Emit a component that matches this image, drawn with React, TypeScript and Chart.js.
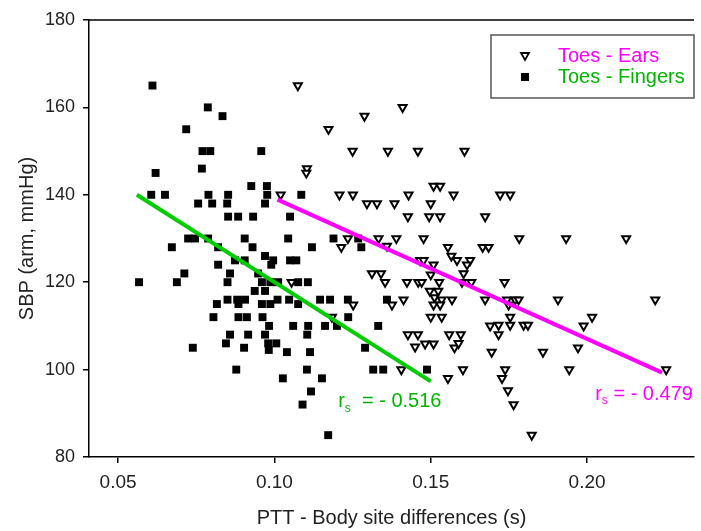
import React, { useEffect, useRef } from 'react';
import { Chart, registerables } from 'chart.js';

Chart.register(...registerables);

// ---- Data ----
const seriesLabels = ['Toes - Ears', 'Toes - Fingers'];
const rsTexts = ['- 0.479', '- 0.516'];
const xTitle = 'PTT - Body site differences (s)';
const yTitle = 'SBP (arm, mmHg)';
const xTicks = [0.05, 0.1, 0.15, 0.2];
const yTicks = [80, 100, 120, 140, 160, 180];

// Toes - Fingers (filled squares)
const fingersX = [
  0.061, 0.0787, 0.0834, 0.0718, 0.077, 0.0795, 0.0958, 0.062, 0.0768, 0.0926, 0.0976,
  0.0606, 0.065, 0.0789, 0.0852, 0.0977,
  0.0756, 0.0801, 0.0849, 0.097,
  0.0852, 0.0884, 0.0932, 0.105,
  0.0724, 0.0746, 0.0788, 0.0905, 0.1044,
  0.0672, 0.082, 0.093,
  0.097,
  0.0874, 0.0905, 0.0996, 0.105,
  0.082, 0.099,
  0.0712, 0.0858, 0.0948,
  0.0567, 0.0688, 0.085, 0.096, 0.0987, 0.1012,
  0.0937, 0.097,
  0.085, 0.0881, 0.0906, 0.101, 0.1047,
  0.0816, 0.0885, 0.096, 0.0987,
  0.0805, 0.0885, 0.0912, 0.0962,
  0.0858, 0.0916, 0.097, 0.0983, 0.106, 0.0739, 0.0845, 0.0903, 0.098, 0.0982, 0.1006, 0.104, 0.0878, 0.1027,
  0.1086, 0.1189, 0.1268, 0.1278, 0.112, 0.107, 0.1076, 0.1107, 0.1146, 0.1178, 0.1235, 0.136, 0.1076, 0.1236,
  0.1108, 0.1162, 0.12, 0.1332, 0.1105, 0.129, 0.1114, 0.1104, 0.1316, 0.1348, 0.1488, 0.1152, 0.1117, 0.109, 0.1172,
];
const fingersY = [
  165, 160, 158, 155, 150, 150, 150, 145, 146, 142, 142,
  140, 140, 140, 140, 140,
  138, 138, 138, 138,
  135, 135, 135, 135,
  130, 130, 130, 130, 130,
  128, 128, 128,
  126,
  125, 125, 125, 125,
  124, 124,
  122, 122, 122,
  120, 120, 120, 120, 120, 120,
  118, 118,
  116, 116, 116, 116, 116,
  115, 115, 115, 115,
  112, 112, 112, 112,
  108, 108, 108, 110, 110, 105, 106, 105, 106, 104.5, 106, 104, 100, 98,
  140, 130, 130, 128, 128, 125, 120, 120, 116, 116, 116, 116, 115, 112,
  110, 110, 110, 110, 108, 105, 104, 100, 100, 100, 100, 98, 95, 92, 85,
];

// Toes - Ears (open down-triangles)
const earsX = [
  0.1075, 0.141, 0.1288, 0.1173, 0.125, 0.1363, 0.1459, 0.1608, 0.1104, 0.1102, 0.1509, 0.153,
  0.102, 0.1055,
  0.1208, 0.1251, 0.1429, 0.1573,
  0.1296, 0.1328, 0.1384, 0.15,
  0.1427, 0.1495, 0.153, 0.1674,
  0.1235, 0.1333, 0.139, 0.1477,
  0.1214, 0.136, 0.1555, 0.1666, 0.1685,
  0.1566, 0.1584, 0.1466, 0.1477, 0.1509, 0.1626, 0.1616, 0.1605,
  0.1312, 0.1341, 0.15,
  0.1354, 0.1424, 0.146, 0.1471, 0.1527, 0.16, 0.163,
  0.1497, 0.1524,
  0.1512, 0.1535, 0.1413, 0.1568, 0.1674,
  0.1252, 0.1376, 0.1509, 0.153,
  0.1184, 0.15, 0.1535,
  0.1722, 0.1754, 0.1783, 0.1933, 0.2125, 0.1736, 0.1744, 0.177, 0.1781, 0.1749, 0.1907, 0.2218, 0.1754, 0.2016,
  0.1717, 0.1754, 0.1797, 0.1811, 0.1989, 0.1717, 0.1971, 0.1859, 0.1738, 0.1943, 0.2253, 0.1728, 0.1747, 0.1765, 0.1823,
  0.1427, 0.1459, 0.1559, 0.1596, 0.169, 0.145, 0.1482, 0.1509, 0.1576, 0.1589, 0.1695, 0.1406, 0.1603, 0.1555,
];
const earsY = [
  165, 160, 158, 155, 150, 150, 150, 150, 146, 145, 142, 142,
  140, 120,
  140, 140, 140, 140,
  138, 138, 138, 138,
  135, 135, 135, 135,
  130, 130, 130, 130,
  128, 128.3, 128, 128, 128,
  126, 125, 125, 125, 124, 125, 124, 122,
  122, 122, 121.7,
  120, 120, 120, 120, 120, 120, 120,
  118, 118,
  116.5, 116, 116, 116, 116,
  114.8, 114.8, 114.8, 114.8,
  112, 112, 112,
  140, 140, 130, 130, 130, 120, 116, 116, 116, 114.8, 116, 116, 112, 112,
  110.2, 110.2, 110.2, 110.2, 110, 108, 105, 104, 100, 100, 100, 98, 95.2, 92, 85,
  108, 108, 108, 108, 110, 105.2, 105.9, 105.9, 105, 106, 104, 100, 100, 98,
];

// Regression lines (end points)
const earsFitX = [0.101, 0.224];
const earsFitY = [138.9, 99.3];
const fingersFitX = [0.056, 0.15];
const fingersFitY = [140, 97.3];

const MAGENTA = '#ff00ff';
const GREEN_LINE = '#00cc00';
const GREEN_TEXT = '#00b400';
const FONT = '"Liberation Sans", Arial, Helvetica, sans-serif';

const toPts = (xs: number[], ys: number[]) => xs.map((x, i) => ({ x, y: ys[i] }));

const overlayPlugin = {
  id: 'overlay',
  afterDraw(chart: any) {
    const { ctx, chartArea: a, scales } = chart;
    const xs = scales.x;
    const ys = scales.y;
    ctx.save();
    // top frame line
    ctx.strokeStyle = '#000';
    ctx.lineWidth = 1.5;
    ctx.beginPath();
    ctx.moveTo(a.left, a.top);
    ctx.lineTo(a.right, a.top);
    ctx.stroke();

    // legend box
    const bx = 491, by = 35, bw = a.right - 491, bh = 63;
    ctx.fillStyle = '#fff';
    ctx.fillRect(bx, by, bw, bh);
    ctx.strokeStyle = '#555';
    ctx.lineWidth = 1.5;
    ctx.strokeRect(bx, by, bw, bh);
    // triangle marker
    const tx = 525, ty = 56;
    ctx.beginPath();
    ctx.moveTo(tx - 4, ty - 3);
    ctx.lineTo(tx + 4, ty - 3);
    ctx.lineTo(tx, ty + 4);
    ctx.closePath();
    ctx.fillStyle = '#fff';
    ctx.fill();
    ctx.strokeStyle = '#000';
    ctx.lineWidth = 1.8;
    ctx.stroke();
    // square marker
    ctx.fillStyle = '#000';
    ctx.fillRect(521, 73, 8, 8);
    ctx.font = `20px ${FONT}`;
    ctx.textBaseline = 'middle';
    ctx.textAlign = 'left';
    ctx.fillStyle = MAGENTA;
    ctx.fillText(seriesLabels[0], 558, 56);
    ctx.fillStyle = GREEN_TEXT;
    ctx.fillText(seriesLabels[1], 558, 77);

    // r_s annotations
    const drawRs = (xv: number, yv: number, gap: string, val: string, color: string) => {
      const px = xs.getPixelForValue(xv);
      const py = ys.getPixelForValue(yv);
      ctx.fillStyle = color;
      ctx.textBaseline = 'middle';
      ctx.font = `20px ${FONT}`;
      ctx.fillText('r', px, py);
      let w = ctx.measureText('r').width;
      ctx.font = `12px ${FONT}`;
      ctx.fillText('s', px + w, py + 7);
      w += ctx.measureText('s').width;
      ctx.font = `20px ${FONT}`;
      ctx.fillText(gap + '= ' + val, px + w, py);
    };
    drawRs(0.1204, 92.6, '  ', rsTexts[1], GREEN_TEXT);
    drawRs(0.2026, 94.4, ' ', rsTexts[0], MAGENTA);
    ctx.restore();
  },
};

export default function App() {
  const ref = useRef<HTMLCanvasElement>(null);
  useEffect(() => {
    document.body.style.margin = '0';
    const canvas = ref.current;
    if (!canvas) return;
    const chart = new Chart(canvas, {
      type: 'scatter',
      data: {
        datasets: [
          {
            type: 'line',
            label: 'fitEars',
            data: toPts(earsFitX, earsFitY),
            borderColor: MAGENTA,
            borderWidth: 4,
            pointRadius: 0,
            showLine: true,
            fill: false,
            order: 0,
          } as any,
          {
            type: 'line',
            label: 'fitFingers',
            data: toPts(fingersFitX, fingersFitY),
            borderColor: GREEN_LINE,
            borderWidth: 4,
            pointRadius: 0,
            showLine: true,
            fill: false,
            order: 0,
          } as any,
          {
            label: seriesLabels[0],
            data: toPts(earsX, earsY),
            pointStyle: 'triangle',
            rotation: 180,
            pointRadius: 4.6,
            backgroundColor: '#fff',
            borderColor: '#000',
            borderWidth: 2,
            order: 1,
          } as any,
          {
            label: seriesLabels[1],
            data: toPts(fingersX, fingersY),
            pointStyle: 'rect',
            pointRadius: 5.6,
            backgroundColor: '#000',
            borderColor: '#000',
            borderWidth: 0,
            order: 2,
          } as any,
        ],
      },
      options: {
        responsive: false,
        animation: false,
        events: [],
        layout: { padding: { top: 20, right: 7, left: 0, bottom: 0 } },
        plugins: {
          legend: { display: false },
          tooltip: { enabled: false },
        },
        scales: {
          x: {
            type: 'linear',
            min: 0.0407,
            max: 0.2342,
            afterBuildTicks: (s: any) => {
              s.ticks = xTicks.map((v) => ({ value: v }));
            },
            afterFit: (s: any) => {
              s.height = 74;
            },
            ticks: {
              callback: (v: any) => Number(v).toFixed(2),
              font: { size: 19, family: FONT },
              color: '#222',
              padding: 8,
              maxRotation: 0,
            },
            grid: { drawOnChartArea: false, drawTicks: true, tickLength: 6, color: '#000', lineWidth: 1.5 },
            border: { display: true, color: '#000', width: 1.5 },
            title: {
              display: true,
              text: xTitle,
              color: '#222',
              font: { size: 20, family: FONT },
              padding: { top: 0, bottom: 1 },
            },
          },
          y: {
            type: 'linear',
            min: 80,
            max: 180,
            afterBuildTicks: (s: any) => {
              s.ticks = yTicks.map((v) => ({ value: v }));
            },
            afterFit: (s: any) => {
              s.width = 89;
            },
            ticks: {
              font: { size: 18, family: FONT },
              color: '#222',
              padding: 8,
            },
            grid: { drawOnChartArea: false, drawTicks: true, tickLength: 6, color: '#000', lineWidth: 1.5 },
            border: { display: true, color: '#000', width: 1.5 },
            title: {
              display: true,
              text: yTitle,
              color: '#222',
              font: { size: 20, family: FONT },
              padding: { top: 15, bottom: 0 },
            },
          },
        },
      },
      plugins: [overlayPlugin],
    } as any);
    return () => chart.destroy();
  }, []);
  return (
    <div style={{ width: 701, height: 531 }}>
      <canvas ref={ref} width={701} height={531} style={{ display: 'block', width: 701, height: 531 }} />
    </div>
  );
}
